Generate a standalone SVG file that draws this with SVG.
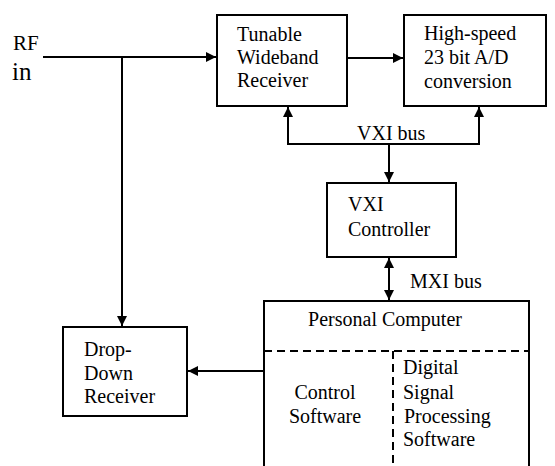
<svg xmlns="http://www.w3.org/2000/svg" width="555" height="466" viewBox="0 0 555 466">
<defs>
<marker id="ah" viewBox="0 0 10 10" refX="10" refY="5" markerWidth="11" markerHeight="10" markerUnits="userSpaceOnUse" orient="auto-start-reverse">
<path d="M0,0 L10,5 L0,10 Z" fill="#000"/>
</marker>
</defs>
<style>
text{font-family:"Liberation Serif","Times New Roman",serif;font-size:20px;fill:#000}
.box{fill:#fff;stroke:#000;stroke-width:2}
.ln{fill:none;stroke:#000;stroke-width:2}
.dash{fill:none;stroke:#000;stroke-width:2;stroke-dasharray:8,5}
</style>
<rect width="555" height="466" fill="#fff"/>
<g id="rf-in">
<text x="13" y="50" style="font-size:21px">RF</text>
<text x="12" y="80" style="font-size:25px">in</text>
</g>
<g id="tunable">
<rect class="box" x="217" y="15" width="130" height="91"/>
<text x="237" y="41">Tunable</text>
<text x="237" y="64">Wideband</text>
<text x="237" y="87">Receiver</text>
</g>
<g id="adc">
<rect class="box" x="404" y="15" width="142" height="91"/>
<text x="424" y="40">High-speed</text>
<text x="424" y="64">23 bit A/D</text>
<text x="424" y="88">conversion</text>
</g>
<g id="vxi-controller">
<rect class="box" x="327" y="183" width="129" height="74"/>
<text x="348" y="211">VXI</text>
<text x="348" y="236">Controller</text>
</g>
<g id="pc">
<path class="ln" d="M264,466 V301 H529 V466"/>
<path class="dash" d="M264,351 H529 M393,351 V466"/>
<text x="385" y="326" text-anchor="middle">Personal Computer</text>
<text x="325" y="399" text-anchor="middle">Control</text>
<text x="325" y="423" text-anchor="middle">Software</text>
<text x="403" y="374">Digital</text>
<text x="403" y="399">Signal</text>
<text x="404" y="423">Processing</text>
<text x="403" y="446">Software</text>
</g>
<g id="dropdown">
<rect class="box" x="63" y="327" width="124" height="89"/>
<text x="84" y="356">Drop-</text>
<text x="84" y="380">Down</text>
<text x="84" y="403">Receiver</text>
</g>
<g id="connectors">
<line class="ln" x1="43" y1="57" x2="216" y2="57" marker-end="url(#ah)"/>
<line class="ln" x1="122" y1="57" x2="122" y2="326" marker-end="url(#ah)"/>
<line class="ln" x1="347" y1="58" x2="403" y2="58" marker-end="url(#ah)"/>
<path class="ln" d="M288,107 V144 H479 V107" marker-start="url(#ah)" marker-end="url(#ah)"/>
<line class="ln" x1="389" y1="144" x2="389" y2="182" marker-end="url(#ah)"/>
<line class="ln" x1="389" y1="258" x2="389" y2="300" marker-start="url(#ah)" marker-end="url(#ah)"/>
<line class="ln" x1="264" y1="371" x2="188" y2="371" marker-end="url(#ah)"/>
<text x="357" y="140">VXI bus</text>
<text x="410" y="288">MXI bus</text>
</g>
</svg>
